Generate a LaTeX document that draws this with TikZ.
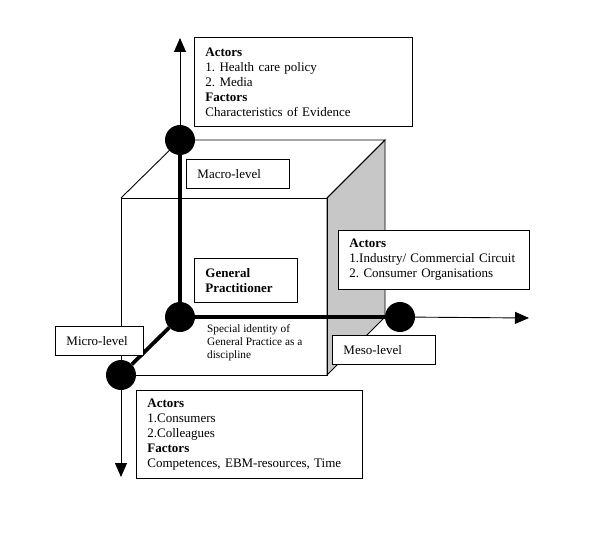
\documentclass[tikz,border=0pt]{standalone}
\usepackage{fontspec}
\setmainfont{Liberation Serif}
\usetikzlibrary{arrows.meta}
\frenchspacing

\begin{document}
\begin{tikzpicture}[x=1pt,y=-1pt,
    infobox/.style={draw,fill=white,line width=0.9pt,anchor=north west,align=left,
      inner xsep=11pt,inner ysep=0pt,font=\fontsize{13}{15}\selectfont},
    joint/.style={circle,fill=black,minimum size=30pt,inner sep=0pt},
    axis/.style={line width=0.9pt,-{Triangle[width=12pt,length=14pt]}},
    spine/.style={line width=3.8pt}]
    \useasboundingbox (0,0) rectangle (600,535);

    % the cube
    \draw[line width=0.9pt,fill=black!22] (327,198) -- (385,140) -- (385,317) -- (327,375) -- cycle;
    \draw[line width=0.9pt] (121,198) -- (180,140) -- (385,140) -- (327,198);
    \draw[line width=0.9pt] (121,198) rectangle (327,375);

    % the four levels
    \node[joint] (macro) at (180,140) {};
    \node[joint] (gp) at (180,317) {};
    \node[joint] (meso) at (400,317) {};
    \node[joint] (micro) at (121,375) {};
    \coordinate (macroEnd) at (180,38);
    \coordinate (mesoEnd) at (529,318);
    \coordinate (microEnd) at (121,477);

    \draw[axis] (macro) -- (macroEnd);
    \draw[axis] (meso) -- (mesoEnd);
    \draw[axis] (micro) -- (microEnd);
    \draw[spine] (macro) -- (gp);
    \draw[spine] (gp) -- (meso);
    \draw[spine] (gp) -- (micro);

    % boxes
    \node[infobox,text width=196pt,minimum height=89pt] (macroInfo) at (194,37)
      {\textbf{Actors}\\1. Health care policy\\2. Media\\\textbf{Factors}\\Characteristics of Evidence};
    \node[infobox,text width=81pt,minimum height=29pt] (macroLabel) at (186,159) {Macro-level};
    \node[infobox,text width=81pt,minimum height=44pt,font=\fontsize{13}{15}\selectfont\bfseries] (gpLabel) at (194,258)
      {General\\Practitioner};
    \node[anchor=north west,align=left,inner sep=0pt,font=\fontsize{11.3}{13}\selectfont] (gpText) at (207,324)
      {Special identity of\\General Practice as a\\discipline};
    \node[infobox,text width=169pt,minimum height=59pt] (mesoInfo) at (338,230)
      {\textbf{Actors}\\1.Industry/ Commercial Circuit\\2. Consumer Organisations};
    \node[infobox,text width=81pt,minimum height=29pt] (mesoLabel) at (332,335) {Meso-level};
    \node[infobox,text width=66pt,minimum height=29pt] (microLabel) at (55,326) {Micro-level};
    \node[infobox,text width=204pt,minimum height=88pt] (microInfo) at (136,390)
      {\textbf{Actors}\\1.Consumers\\2.Colleagues\\\textbf{Factors}\\Competences, EBM-resources, Time};
\end{tikzpicture}
\end{document}
